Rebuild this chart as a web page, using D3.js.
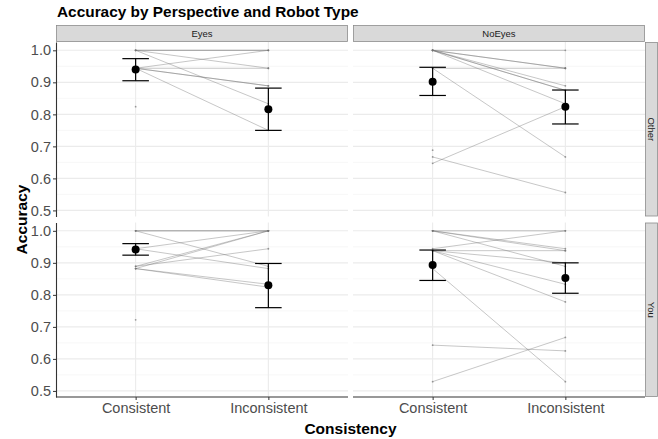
<!DOCTYPE html>
<html>
<head>
<meta charset="utf-8">
<script src="https://cdn.jsdelivr.net/npm/d3@7"></script>
<style>
  body { margin: 0; background: #fff; }
  text { font-family: "Liberation Sans", Arial, sans-serif; }
</style>
</head>
<body>
<script>
// categories and facets
const conditions = ['Consistent', 'Inconsistent'];
const robotTypes = ['Eyes', 'NoEyes'];
const perspectives = ['Other', 'You'];
const yTicks = [0.5, 0.6, 0.7, 0.8, 0.9, 1.0];

// per-participant accuracy: [Consistent, Inconsistent]
const eyesOther = [
  [1, 1], [1, 1], [1, 0.944], [1, 0.833],
  [0.944, 1], [0.944, 0.944], [0.944, 0.889], [0.944, 0.889], [0.944, 0.75],
  [0.824, null]
];
const noEyesOther = [
  [1, 1], [1, 0.944], [1, 0.944], [1, 0.889], [1, 0.875], [1, 0.875], [1, 0.833],
  [0.944, 0.944], [0.944, 0.667], [0.647, 0.824], [0.667, 0.556], [0.688, null]
];
const eyesYou = [
  [1, 1], [1, 1], [1, 0.889], [0.944, 1], [0.944, 0.882],
  [0.889, 1], [0.882, 1], [0.889, 0.944], [0.882, 0.833], [0.882, 0.824],
  [0.722, null]
];
const noEyesYou = [
  [1, 1], [1, 0.944], [1, 0.938], [1, 0.889], [0.944, 1],
  [0.938, 0.938], [0.938, 0.9], [0.938, 0.833], [0.938, 0.778],
  [0.882, 0.529], [0.643, 0.625], [0.529, 0.667]
];

// group means and error bars, order: Eyes/Other, NoEyes/Other, Eyes/You, NoEyes/You
const consMean = [0.940, 0.902, 0.942, 0.893];
const consLo   = [0.905, 0.859, 0.924, 0.845];
const consHi   = [0.974, 0.947, 0.960, 0.940];
const inconsMean = [0.816, 0.824, 0.830, 0.853];
const inconsLo   = [0.750, 0.770, 0.760, 0.805];
const inconsHi   = [0.882, 0.876, 0.898, 0.900];

const subjects = [eyesOther, noEyesOther, eyesYou, noEyesYou];

const W = 658, H = 439;
const colX = [[56, 348], [353, 645]];
const rowY = [[42, 216.5], [222.5, 397]];
const stripTop = 25, stripRight = 658;

const svg = d3.select('body').append('svg')
  .attr('width', W).attr('height', H);

svg.append('rect').attr('width', W).attr('height', H).attr('fill', 'white');

// title
svg.append('text')
  .attr('x', 57).attr('y', 17)
  .style('font-size', '15.4px').style('font-weight', 'bold')
  .attr('fill', '#000')
  .text('Accuracy by Perspective and Robot Type');

perspectives.forEach((persp, r) => {
  robotTypes.forEach((robot, c) => {
    const idx = r * 2 + c;
    const [x0, x1] = colX[c];
    const [y0, y1] = rowY[r];

    const x = d3.scalePoint().domain(conditions).range([x0, x1]).padding(0.6);
    const y = d3.scaleLinear().domain([0.481, 1.026]).range([y1, y0]);

    const g = svg.append('g');

    // minor grid
    g.append('g').selectAll('line')
      .data(d3.range(0.55, 1.0, 0.1))
      .join('line')
      .attr('x1', x0).attr('x2', x1)
      .attr('y1', d => y(d)).attr('y2', d => y(d))
      .attr('stroke', '#f2f2f2').attr('stroke-width', 0.6);

    // major grid
    g.append('g').selectAll('line')
      .data(yTicks)
      .join('line')
      .attr('x1', x0).attr('x2', x1)
      .attr('y1', d => y(d)).attr('y2', d => y(d))
      .attr('stroke', '#ebebeb').attr('stroke-width', 1.1);

    g.append('g').selectAll('line')
      .data(conditions)
      .join('line')
      .attr('x1', d => x(d)).attr('x2', d => x(d))
      .attr('y1', y0).attr('y2', y1)
      .attr('stroke', '#ebebeb').attr('stroke-width', 1.1);

    // participant lines
    const pairs = subjects[idx];
    g.append('g').selectAll('line')
      .data(pairs.filter(p => p[1] !== null))
      .join('line')
      .attr('x1', x(conditions[0])).attr('x2', x(conditions[1]))
      .attr('y1', d => y(d[0])).attr('y2', d => y(d[1]))
      .attr('stroke', '#737373').attr('stroke-opacity', 0.5)
      .attr('stroke-width', 0.8);

    // participant points
    const pts = [];
    pairs.forEach(p => {
      if (p[0] !== null) pts.push([conditions[0], p[0]]);
      if (p[1] !== null) pts.push([conditions[1], p[1]]);
    });
    g.append('g').selectAll('circle')
      .data(pts)
      .join('circle')
      .attr('cx', d => x(d[0])).attr('cy', d => y(d[1]))
      .attr('r', 0.9)
      .attr('fill', '#737373').attr('fill-opacity', 0.7);

    // error bars + means
    const summary = [
      { cond: conditions[0], m: consMean[idx], lo: consLo[idx], hi: consHi[idx] },
      { cond: conditions[1], m: inconsMean[idx], lo: inconsLo[idx], hi: inconsHi[idx] }
    ];
    const half = (x(conditions[1]) - x(conditions[0])) * 0.1;
    const eb = g.append('g').selectAll('g').data(summary).join('g');
    eb.append('line')
      .attr('x1', d => x(d.cond)).attr('x2', d => x(d.cond))
      .attr('y1', d => y(d.lo)).attr('y2', d => y(d.hi))
      .attr('stroke', '#000').attr('stroke-width', 1.2);
    eb.append('line')
      .attr('x1', d => x(d.cond) - half).attr('x2', d => x(d.cond) + half)
      .attr('y1', d => y(d.lo)).attr('y2', d => y(d.lo))
      .attr('stroke', '#000').attr('stroke-width', 1.2);
    eb.append('line')
      .attr('x1', d => x(d.cond) - half).attr('x2', d => x(d.cond) + half)
      .attr('y1', d => y(d.hi)).attr('y2', d => y(d.hi))
      .attr('stroke', '#000').attr('stroke-width', 1.2);
    eb.append('circle')
      .attr('cx', d => x(d.cond)).attr('cy', d => y(d.m))
      .attr('r', 4).attr('fill', '#000');

    // y axis on left column
    if (c === 0) {
      const ya = g.append('g')
        .attr('transform', `translate(${x0},0)`)
        .call(d3.axisLeft(y).tickValues(yTicks).tickFormat(d3.format('.1f')).tickSize(3).tickSizeOuter(0));
      ya.select('.domain').attr('stroke', '#333').attr('stroke-width', 1.1);
      ya.selectAll('.tick line').attr('stroke', '#333');
      ya.selectAll('.tick text')
        .style('font-size', '14.5px').attr('fill', '#4d4d4d')
        .attr('x', -5);
    }

    // x axis on bottom row
    if (r === 1) {
      const xa = g.append('g')
        .attr('transform', `translate(0,${y1})`)
        .call(d3.axisBottom(x).tickSize(3).tickSizeOuter(0));
      xa.select('.domain').attr('stroke', '#333').attr('stroke-width', 1.1)
        .attr('d', `M${x0},0H${x1}`);
      xa.selectAll('.tick line').attr('stroke', '#333');
      xa.selectAll('.tick text')
        .style('font-size', '14.5px').attr('fill', '#4d4d4d')
        .attr('y', 6);
    }

    // top strips
    if (r === 0) {
      svg.append('rect')
        .attr('x', x0 + 0.5).attr('y', stripTop + 0.5)
        .attr('width', x1 - x0 - 1).attr('height', y0 - stripTop - 1)
        .attr('fill', '#d9d9d9').attr('stroke', '#8c8c8c').attr('stroke-width', 0.8);
      svg.append('text')
        .attr('x', (x0 + x1) / 2).attr('y', (stripTop + y0) / 2 + 3.3)
        .attr('text-anchor', 'middle')
        .style('font-size', '9.5px').attr('fill', '#1a1a1a')
        .text(robot);
    }

    // right strips
    if (c === 1) {
      svg.append('rect')
        .attr('x', x1 + 0.5).attr('y', y0 + 0.5)
        .attr('width', stripRight - x1 - 1).attr('height', y1 - y0 - 1)
        .attr('fill', '#d9d9d9').attr('stroke', '#8c8c8c').attr('stroke-width', 0.8);
      const cx = (x1 + stripRight) / 2, cy = (y0 + y1) / 2;
      svg.append('text')
        .attr('transform', `translate(${cx - 3.3},${cy}) rotate(90)`)
        .attr('text-anchor', 'middle')
        .style('font-size', '9.5px').attr('fill', '#1a1a1a')
        .text(persp);
    }
  });
});

// axis titles
svg.append('text')
  .attr('transform', `translate(27,${(rowY[0][0] + rowY[1][1]) / 2}) rotate(-90)`)
  .attr('text-anchor', 'middle')
  .style('font-size', '15.5px').style('font-weight', 'bold')
  .text('Accuracy');

svg.append('text')
  .attr('x', (colX[0][0] + colX[1][1]) / 2).attr('y', 434)
  .attr('text-anchor', 'middle')
  .style('font-size', '15.5px').style('font-weight', 'bold')
  .text('Consistency');
</script>
</body>
</html>
